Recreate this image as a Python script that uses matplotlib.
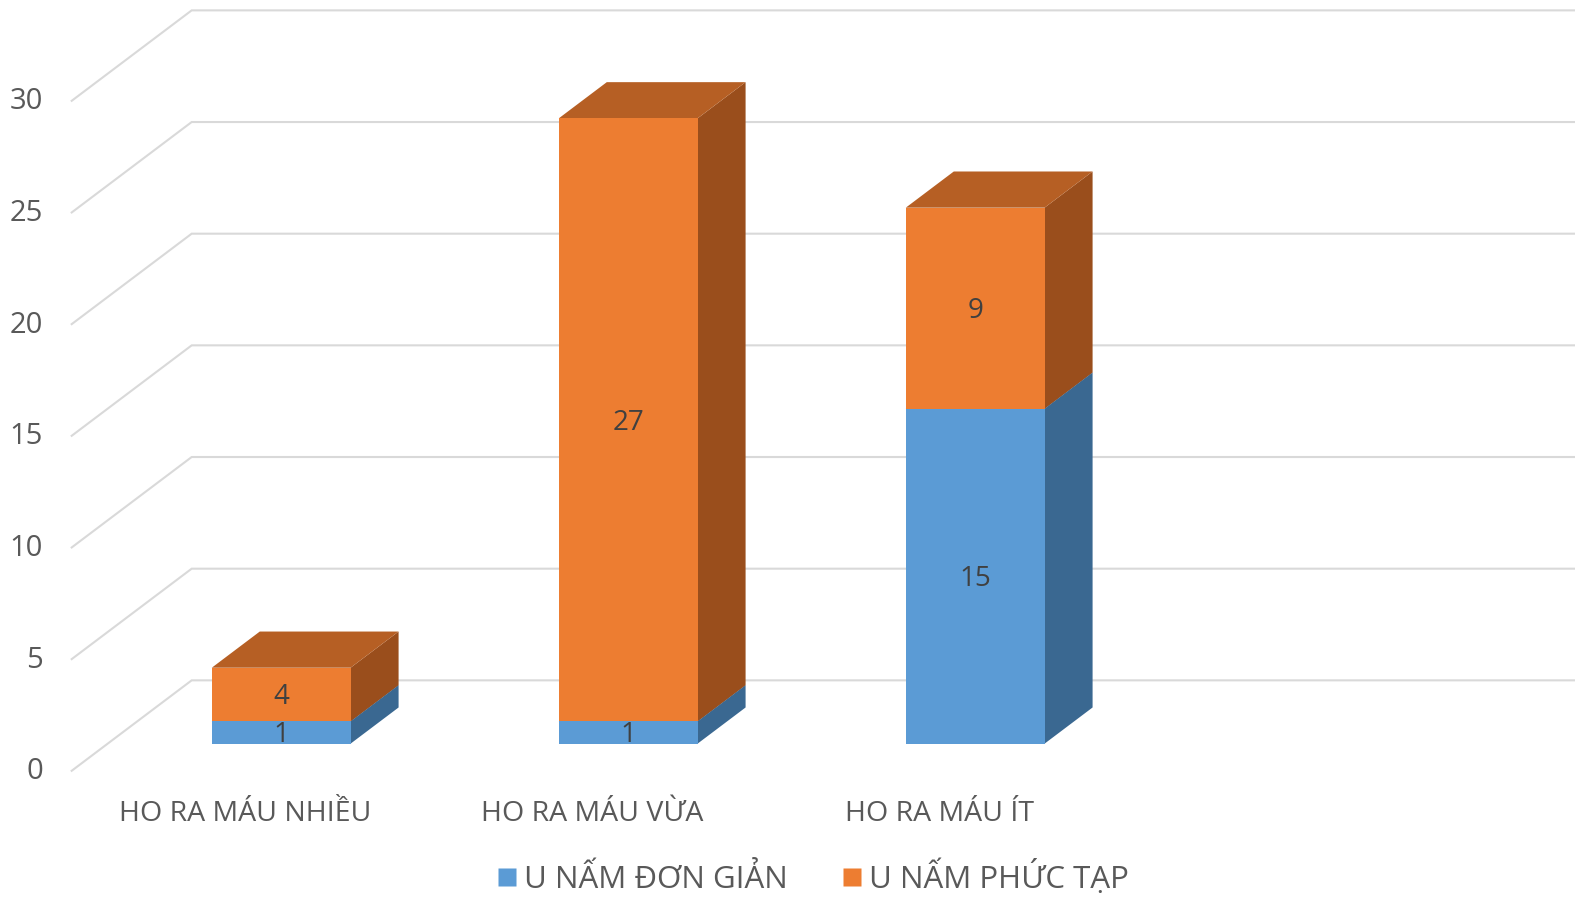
import matplotlib.pyplot as plt
from matplotlib.patches import Polygon
from matplotlib.lines import Line2D

# data
categories = ["HO RA MÁU NHIỀU", "HO RA MÁU VỪA", "HO RA MÁU ÍT"]
series_names = ["U NẤM ĐƠN GIẢN", "U NẤM PHỨC TẠP"]
simple_vals = [1, 1, 15]
complex_vals = [2.4, 27, 9]          # drawn heights
complex_labels = ["4", "27", "9"]    # label text shown on the bars
simple_labels = ["1", "1", "15"]
y_ticks = [0, 5, 10, 15, 20, 25, 30]
n_slots = 4  # the chart keeps room for a 4th (empty) category

# colours (front, side, top)
BLUE = ("#5B9BD5", "#3A6891", "#41719C")
ORANGE = ("#ED7D31", "#9A4E1C", "#B65F24")
GRID = "#D9D9D9"
TXT = "#595959"
LBL = "#404040"

# oblique 3d look: depth offset in data units
DX, DY = 0.3458, 4.05
Z0, Z1 = 0.3, 0.7
HALF_W = 0.2

plt.rcParams['font.family'] = ['Open Sans', 'DejaVu Sans']

fig = plt.figure(figsize=(15.75, 9), dpi=100)
ax = fig.add_axes([0, 0, 1, 1])
ax.set_xlim(-0.7066, 3.8323)
ax.set_ylim(-5.786, 34.514)
ax.axis('off')


def proj(x, v, z):
    return (x + z * DX, v + z * DY)


# gridlines: side wall diagonal + back wall horizontal
x_left, x_right = -0.5, n_slots - 0.5
for v in y_ticks:
    p0 = proj(x_left, v, 0)
    p1 = proj(x_left, v, 1)
    p2 = proj(x_right, v, 1)
    ax.plot([p0[0], p1[0], p2[0]], [p0[1], p1[1], p2[1]], color=GRID, lw=1.5,
            solid_joinstyle='miter', zorder=1)
    ax.text(-0.5827, v - 0.05, str(v), ha='right', va='center', fontsize=21, color=TXT)


def draw_box(i, v0, v1, cols, zo):
    front, side, top = cols
    xl, xr = i - HALF_W, i + HALF_W
    # side face (right)
    ax.add_patch(Polygon([proj(xr, v0, Z0), proj(xr, v0, Z1), proj(xr, v1, Z1), proj(xr, v1, Z0)],
                         closed=True, fc=side, ec='none', zorder=zo))
    # top face
    ax.add_patch(Polygon([proj(xl, v1, Z0), proj(xr, v1, Z0), proj(xr, v1, Z1), proj(xl, v1, Z1)],
                         closed=True, fc=top, ec='none', zorder=zo))
    # front face
    ax.add_patch(Polygon([proj(xl, v0, Z0), proj(xr, v0, Z0), proj(xr, v1, Z0), proj(xl, v1, Z0)],
                         closed=True, fc=front, ec='none', zorder=zo))


LBL_SHIFT = -0.13  # nudge labels a touch lower
for i in range(len(categories)):
    s = simple_vals[i]
    c = complex_vals[i]
    draw_box(i, 0, s, BLUE, 2)
    draw_box(i, s, s + c, ORANGE, 3)
    cx, _ = proj(i, 0, Z0)
    ax.text(cx, proj(i, s / 2, Z0)[1] + LBL_SHIFT, simple_labels[i], ha='center', va='center',
            fontsize=20, color=LBL, zorder=5)
    ax.text(cx, proj(i, s + c / 2, Z0)[1] + LBL_SHIFT, complex_labels[i], ha='center', va='center',
            fontsize=20, color=LBL, zorder=5)
    ax.text(i, -1.93, categories[i], ha='center', va='center', fontsize=20.5, color=TXT)

handles = [Line2D([], [], ls='none', marker='s', markersize=12.5, mfc=BLUE[0], mec='none'),
           Line2D([], [], ls='none', marker='s', markersize=12.5, mfc=ORANGE[0], mec='none')]
fig.legend(handles, series_names, loc='center', bbox_to_anchor=(0.5165, 0.025), ncol=2,
           frameon=False, fontsize=22.5, labelcolor=TXT, handlelength=0.6,
           handletextpad=0.25, columnspacing=1.75)

fig.savefig('out.png', dpi=100)
